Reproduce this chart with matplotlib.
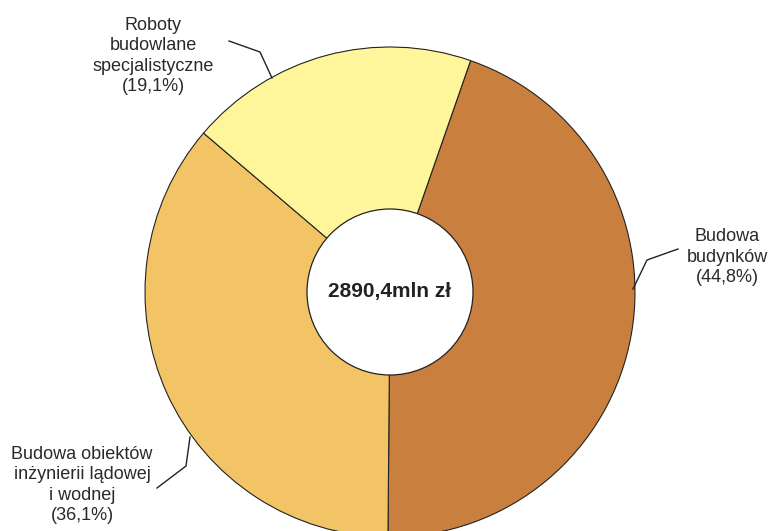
import matplotlib.pyplot as plt
from matplotlib.patches import Circle

plt.rcParams['font.family'] = ['Liberation Sans', 'DejaVu Sans']

labels = ['Budowa\nbudynków\n(44,8%)',
          'Budowa obiektów\ninżynierii lądowej\ni wodnej\n(36,1%)',
          'Roboty\nbudowlane\nspecjalistyczne\n(19,1%)']
shares = [44.8, 36.1, 19.1]
colors = ['#C97F3D', '#F2C466', '#FFF69C']
total_label = '2890,4mln zł'

W, H = 772, 531
fig = plt.figure(figsize=(W / 100, H / 100), dpi=100)
ax = fig.add_axes([0, 0, 1, 1])


def py(y):
    # pixel row -> data y
    return H - y


cx, cy, r = 390, py(292), 245
ax.pie(shares, colors=colors, startangle=70.8, counterclock=False,
       center=(cx, cy), radius=r, frame=True,
       wedgeprops=dict(edgecolor='#222222', linewidth=0.8))
ax.set_xlim(0, W)
ax.set_ylim(0, H)
ax.set_aspect('equal')
ax.axis('off')

ax.add_patch(Circle((cx, cy), 83, facecolor='white', edgecolor='#222222',
                    linewidth=0.9, zorder=5))
ax.text(cx, cy, total_label, ha='center', va='center', fontsize=15,
        fontweight='bold', color='#222222', zorder=6)

# leader lines
leaders = [
    [(678, 249), (647, 260), (633, 289)],
    [(157, 488), (186, 466), (190, 437)],
    [(229, 41), (260, 52), (272, 78)],
]
for pts in leaders:
    ax.plot([p[0] for p in pts], [py(p[1]) for p in pts], color='#222222',
            linewidth=1.0, zorder=4)

txt_pos = [(727, 257), (82, 485), (153, 56)]
for lab, (x, y) in zip(labels, txt_pos):
    ax.text(x, py(y), lab, ha='center', va='center', fontsize=13,
            color='#2a2a2a', linespacing=1.25)

fig.savefig('out.png', dpi=100)
